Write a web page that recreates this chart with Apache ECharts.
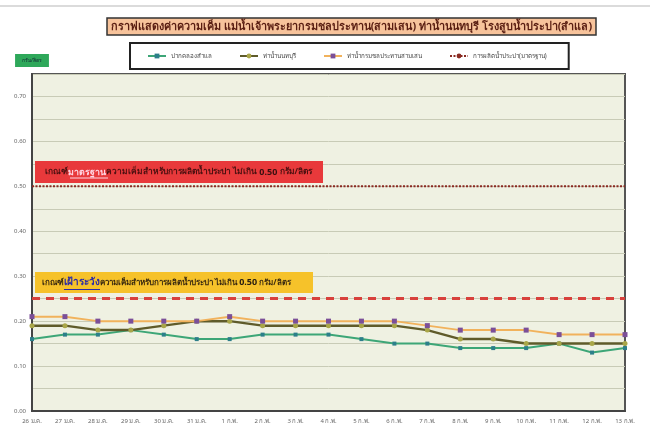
<!DOCTYPE html>
<html><head><meta charset="utf-8">
<script src="https://cdn.jsdelivr.net/npm/echarts@6/dist/echarts.min.js"></script>
<style>html,body{margin:0;padding:0;background:#fff}#c{width:650px;height:424px}</style>
</head><body><div id="c"></div>
<script>
const categories = ['26 ม.ค.','27 ม.ค.','28 ม.ค.','29 ม.ค.','30 ม.ค.','31 ม.ค.','1 ก.พ.','2 ก.พ.','3 ก.พ.','4 ก.พ.','5 ก.พ.','6 ก.พ.','7 ก.พ.','8 ก.พ.','9 ก.พ.','10 ก.พ.','11 ก.พ.','12 ก.พ.','13 ก.พ.'];
const samlae     = [0.16,0.17,0.17,0.18,0.17,0.16,0.16,0.17,0.17,0.17,0.16,0.15,0.15,0.14,0.14,0.14,0.15,0.13,0.14];
const nonthaburi = [0.19,0.19,0.18,0.18,0.19,0.20,0.20,0.19,0.19,0.19,0.19,0.19,0.18,0.16,0.16,0.15,0.15,0.15,0.15];
const samsen     = [0.21,0.21,0.20,0.20,0.20,0.20,0.21,0.20,0.20,0.20,0.20,0.20,0.19,0.18,0.18,0.18,0.17,0.17,0.17];
const standard   = [0.50,0.50,0.50,0.50,0.50,0.50,0.50,0.50,0.50,0.50,0.50,0.50,0.50,0.50,0.50,0.50,0.50,0.50,0.50];
const watchLevel = 0.25;
const seriesNames = ['ปากคลองสำแล','ท่าน้ำนนทบุรี','ท่าน้ำกรมชลประทานสามเสน','การผลิตน้ำประปา(มาตรฐาน)'];
const titleText = 'กราฟแสดงค่าความเค็ม แม่น้ำเจ้าพระยากรมชลประทาน(สามเสน) ท่าน้ำนนทบุรี โรงสูบน้ำประปา(สำแล)';
const unitText = 'กรัม/ลิตร';
const note1 = ['เกณฑ์', 'มาตรฐาน', 'ความเค็มสำหรับการผลิตน้ำประปา ไม่เกิน ', '0.50', ' กรัม/ลิตร'];
const note2 = ['เกณฑ์', 'เฝ้าระวัง', 'ความเค็มสำหรับการผลิตน้ำประปา ไม่เกิน ', '0.50', ' กรัม/ลิตร'];
const yMin = 0, yMax = 0.75, yStep = 0.05;

const FONT = '"Noto Sans", "DejaVu Sans", sans-serif';
const ctx = document.createElement('canvas').getContext('2d');
function tw(txt, size) { ctx.font = 'bold ' + size + 'px ' + FONT; return ctx.measureText(txt).width; }

const n1x = 45, n1y = 172, n1a = 8.4, n1b = 8.8;
const n2x = 42, n2y = 282.5, n2a = 8, n2b = 10;
const u1s = n1x + tw(note1[0], n1a), u1w = tw(note1[1], n1b);
const u2s = n2x + tw(note2[0], n2a), u2w = tw(note2[1], n2b);

const chart = echarts.init(document.getElementById('c'));
chart.setOption({
  animation: false,
  textStyle: {fontFamily: FONT},
  title: {
    text: titleText, left: 107, top: 18,
    padding: [3, 4],
    backgroundColor: '#f7c39b', borderColor: '#333', borderWidth: 1.5,
    textStyle: {fontSize: 10.8, fontWeight: 'bold', color: '#5a1e12', fontFamily: FONT}
  },
  legend: {
    left: 130, top: 43, padding: [10, 22, 10, 17], itemGap: 27,
    itemWidth: 18, itemHeight: 6,
    backgroundColor: '#fff', borderColor: '#222', borderWidth: 2,
    textStyle: {fontSize: 6.2, color: '#444', fontFamily: FONT},
    data: seriesNames
  },
  graphic: [
    {type: 'line', shape: {x1: 0, y1: 6, x2: 650, y2: 6}, style: {stroke: '#cfcfcf', lineWidth: 1.5}},
    {type: 'rect', shape: {x: 35, y: 161, width: 288, height: 22}, style: {fill: '#e8393b'}, z: 10},
    {type: 'text', x: n1x, y: n1y, z: 11, style: {
      text: '{a|' + note1[0] + '}{b|' + note1[1] + '}{a|' + note1[2] + '}{c|' + note1[3] + '}{a|' + note1[4] + '}',
      verticalAlign: 'middle',
      rich: {
        a: {fontSize: n1a, fontWeight: 'bold', fill: '#4a1010', fontFamily: FONT},
        b: {fontSize: n1b, fontWeight: 'bold', fill: '#ffd7e4', fontFamily: FONT},
        c: {fontSize: 9, fontWeight: 'bold', fill: '#3a1010', fontFamily: FONT}
      }}},
    {type: 'line', z: 12, shape: {x1: u1s + 2, y1: n1y + 6, x2: u1s + u1w + 2, y2: n1y + 6}, style: {stroke: '#ffd7e4', lineWidth: 1}},
    {type: 'rect', shape: {x: 35, y: 272, width: 278, height: 21}, style: {fill: '#f6c22a'}, z: 10},
    {type: 'text', x: n2x, y: n2y, z: 11, style: {
      text: '{a|' + note2[0] + '}{b|' + note2[1] + '}{a|' + note2[2] + '}{c|' + note2[3] + '}{a|' + note2[4] + '}',
      verticalAlign: 'middle',
      rich: {
        a: {fontSize: n2a, fontWeight: 'bold', fill: '#3a2a10', fontFamily: FONT},
        b: {fontSize: n2b, fontWeight: 'bold', fill: '#2a2aa8', fontFamily: FONT},
        c: {fontSize: 9, fontWeight: 'bold', fill: '#2a2010', fontFamily: FONT}
      }}},
    {type: 'line', z: 12, shape: {x1: u2s, y1: n2y + 7, x2: u2s + u2w, y2: n2y + 7}, style: {stroke: '#2a2aa8', lineWidth: 1.2}}
  ],
  grid: {left: 32, top: 74, right: 25, bottom: 13, show: true, backgroundColor: '#eff1e2', borderColor: '#555', borderWidth: 2},
  xAxis: {
    type: 'category', data: categories, boundaryGap: false,
    axisLine: {lineStyle: {color: '#444', width: 2}},
    axisTick: {show: false},
    axisLabel: {interval: 0, fontSize: 6, color: '#666', margin: 7},
    splitLine: {show: false}
  },
  yAxis: {
    type: 'value', min: yMin, max: yMax, interval: yStep,
    name: unitText, nameLocation: 'end', nameGap: 7,
    nameTextStyle: {fontSize: 5, color: '#123', backgroundColor: '#2ea85a', padding: [4, 7], align: 'center'},
    axisLine: {show: true, lineStyle: {color: '#444', width: 2}},
    axisTick: {show: false},
    axisLabel: {fontSize: 6, color: '#666', margin: 6,
      formatter: v => (Math.round(v * 100) % 10 === 0 ? v.toFixed(2) : '')},
    splitLine: {lineStyle: {color: '#c8cbb6', width: 1}}
  },
  series: [
    {name: seriesNames[0], type: 'line', data: samlae, symbol: 'rect', symbolSize: 4,
     lineStyle: {color: '#3da677', width: 2}, itemStyle: {color: '#2d7f8a'}, color: '#3da677'},
    {name: seriesNames[1], type: 'line', data: nonthaburi, symbol: 'circle', symbolSize: 5,
     lineStyle: {color: '#5f5b2a', width: 2.5}, itemStyle: {color: '#a9a648'}, color: '#5f5b2a'},
    {name: seriesNames[2], type: 'line', data: samsen, symbol: 'rect', symbolSize: 5,
     lineStyle: {color: '#f1b25c', width: 2}, itemStyle: {color: '#7b4f98'}, color: '#f1b25c'},
    {name: seriesNames[3], type: 'line', data: standard, symbol: 'none',
     lineStyle: {color: '#8a2a22', width: 2, type: [2, 1.5]}, color: '#8a2a22',
     markLine: {symbol: 'none', silent: true, label: {show: false},
       lineStyle: {color: '#d8413c', width: 3, type: [8, 6]},
       data: [{yAxis: watchLevel}]}}
  ]
});
</script></body></html>
